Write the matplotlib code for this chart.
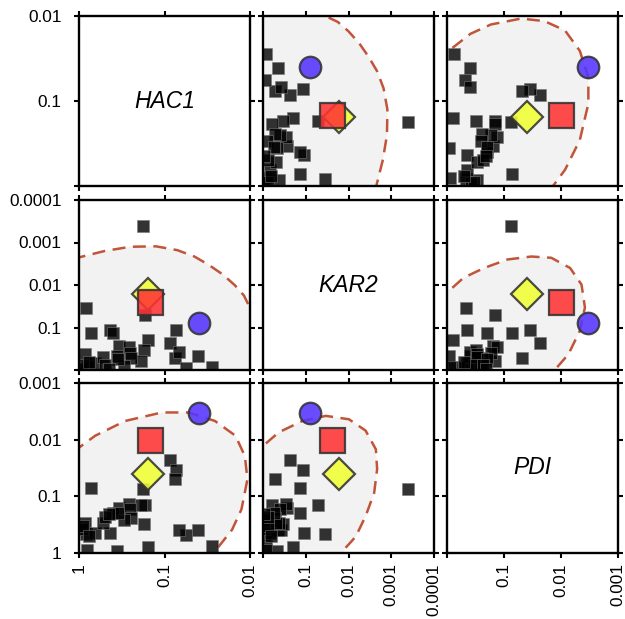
import numpy as np
import matplotlib
matplotlib.use("Agg")
import matplotlib.pyplot as plt

plt.rcParams['font.family'] = ['Liberation Sans', 'DejaVu Sans']

# ---------------- data ----------------
genes = ["HAC1", "KAR2", "PDI"]
axis_min_p = [0.01, 0.0001, 0.001]
tick_values = [[1, 0.1, 0.01],
               [1, 0.1, 0.01, 0.001, 0.0001],
               [1, 0.1, 0.01, 0.001]]
tick_labels = [["1", "0.1", "0.01"],
               ["1", "0.1", "0.01", "0.001", "0.0001"],
               ["1", "0.1", "0.01", "0.001"]]

# p-values of background genes for each screen
hac1_p = [0.178, 0.0851, 0.0724, 0.0759, 0.724, 0.170, 0.832, 0.0407, 0.0282, 0.0562,
          0.0676, 0.158, 0.174, 0.186, 0.339, 0.437, 0.398, 0.263, 0.251, 0.245,
          0.295, 0.355, 0.813, 0.851, 0.646, 0.525, 0.347, 0.933, 0.891, 0.490,
          0.759, 0.447]
kar2_p = [0.000407, 0.234, 0.115, 0.525, 0.135, 0.0513, 0.0347, 0.457, 0.871, 0.912,
          0.372, 0.195, 0.339, 0.617, 0.269, 0.112, 0.135, 0.295, 0.407, 0.513,
          0.813, 0.468, 0.871, 0.417, 0.692, 0.490, 0.562, 0.955, 0.759, 0.759,
          0.646, 0.955]
pdi_p = [0.0741, 0.0229, 0.0347, 0.0490, 0.0724, 0.145, 0.457, 0.398, 0.759, 0.490,
         0.389, 0.776, 0.309, 0.145, 0.158, 0.447, 0.200, 0.135, 0.166, 0.240,
         0.257, 0.912, 0.891, 0.295, 0.447, 0.295, 0.200, 0.380, 0.331, 0.229,
         0.501, 0.209]

# highlighted genes: blue circle, yellow diamond, red square
special_names = ["blue", "yellow", "red"]
special_hac1 = [0.0398, 0.155, 0.148]
special_kar2 = [0.0794, 0.0166, 0.0245]
special_pdi = [0.00339, 0.0398, 0.0100]
special_colors = ["#5533ff", "#f0ff33", "#ff3333"]
special_markers = ["o", "D", "s"]
special_sizes = [15.5, 16.0, 18.0]

# density contours (log10 p), x = first gene, y = second gene
contour_hac1_kar2 = [(0.3, -2.45), (0.0, -2.65), (-0.3, -2.80), (-0.6, -2.90), (-0.9, -2.91),
                     (-1.15, -2.82), (-1.35, -2.67), (-1.52, -2.47), (-1.68, -2.25),
                     (-1.82, -2.0), (-1.93, -1.75), (-2.0, -1.46), (-2.08, -1.0),
                     (-2.1, -0.4), (-2.05, 0.3), (0.3, 0.3)]
contour_hac1_pdi = [(0.3, -1.65), (0.0, -1.86), (-0.19, -2.07), (-0.54, -2.33), (-0.97, -2.48),
                    (-1.28, -2.48), (-1.59, -2.33), (-1.83, -2.07), (-1.94, -1.71),
                    (-1.97, -1.30), (-1.90, -0.77), (-1.79, -0.41), (-1.59, -0.03),
                    (-1.45, 0.3), (0.3, 0.3)]
contour_kar2_pdi = [(0.3, -1.7), (0.0, -1.89), (-0.37, -2.13), (-0.92, -2.33), (-1.47, -2.42),
                    (-2.01, -2.36), (-2.40, -2.16), (-2.64, -1.83), (-2.67, -1.48),
                    (-2.60, -1.06), (-2.40, -0.65), (-2.17, -0.29), (-1.93, -0.09),
                    (-1.75, 0.3), (0.3, 0.3)]

values = [hac1_p, kar2_p, pdi_p]
special_values = [special_hac1, special_kar2, special_pdi]
contours = {(0, 1): contour_hac1_kar2, (0, 2): contour_hac1_pdi, (1, 2): contour_kar2_pdi}

# ---------------- layout ----------------
W, H = 625, 619
fig = plt.figure(figsize=(W / 100, H / 100), dpi=100)
col_left = [79, 263, 447]
row_top = [16, 200, 383]
pw, ph = 171, 170

fill_color = "#f2f2f2"
dash_color = "#c0553a"

for i in range(3):          # row -> y variable
    for j in range(3):      # col -> x variable
        ax = fig.add_axes([col_left[j] / W, (H - row_top[i] - ph) / H, pw / W, ph / H])
        ax.set_xscale("log")
        ax.set_yscale("log")
        ax.set_xlim(1, axis_min_p[j])
        ax.set_ylim(1, axis_min_p[i])
        ax.set_autoscale_on(False)

        if i == j:
            ax.text(0.5, 0.5, genes[i], transform=ax.transAxes, ha="center", va="center",
                    fontsize=16.5, style="italic")
        else:
            a, b = min(i, j), max(i, j)
            pts = np.array(contours[(a, b)])
            if j == a:   # lower panel: x = gene a, y = gene b
                cx, cy = 10 ** pts[:, 0], 10 ** pts[:, 1]
            else:        # upper panel: transposed
                cx, cy = 10 ** pts[:, 1], 10 ** pts[:, 0]
            ax.fill(cx, cy, color=fill_color, lw=0, zorder=0.5)
            ax.plot(np.append(cx, cx[0]), np.append(cy, cy[0]), color=dash_color, lw=1.8,
                    dashes=(5.2, 3.0), zorder=1)
            ax.scatter(values[j], values[i], marker="s", s=9.3 ** 2, facecolor="black",
                       edgecolor="#777777", linewidths=0.5, alpha=0.8, zorder=2)
            for k in range(len(special_names)):
                ax.plot(special_values[j][k], special_values[i][k], marker=special_markers[k],
                        ms=special_sizes[k], mfc=special_colors[k], mec="#333333", mew=1.6,
                        alpha=0.88, ls="none", zorder=3 + k)

        ax.set_xticks(tick_values[j])
        ax.set_yticks(tick_values[i])
        ax.xaxis.set_minor_locator(matplotlib.ticker.NullLocator())
        ax.yaxis.set_minor_locator(matplotlib.ticker.NullLocator())
        xl = list(tick_labels[j])
        yl = list(tick_labels[i])
        if j > 0:
            xl[0] = ""
        if i < 2:
            yl[0] = ""
        ax.set_xticklabels(xl, rotation=90)
        ax.set_yticklabels(yl)
        ax.tick_params(which="both", direction="out", length=3.5, width=1.5,
                       top=True, right=True, labelsize=12.4,
                       labelbottom=(i == 2), labelleft=(j == 0))
        ax.tick_params(axis="y", pad=9)
        ax.tick_params(axis="x", pad=4)
        for s in ax.spines.values():
            s.set_linewidth(1.7)

fig.savefig("out.png", dpi=100)
